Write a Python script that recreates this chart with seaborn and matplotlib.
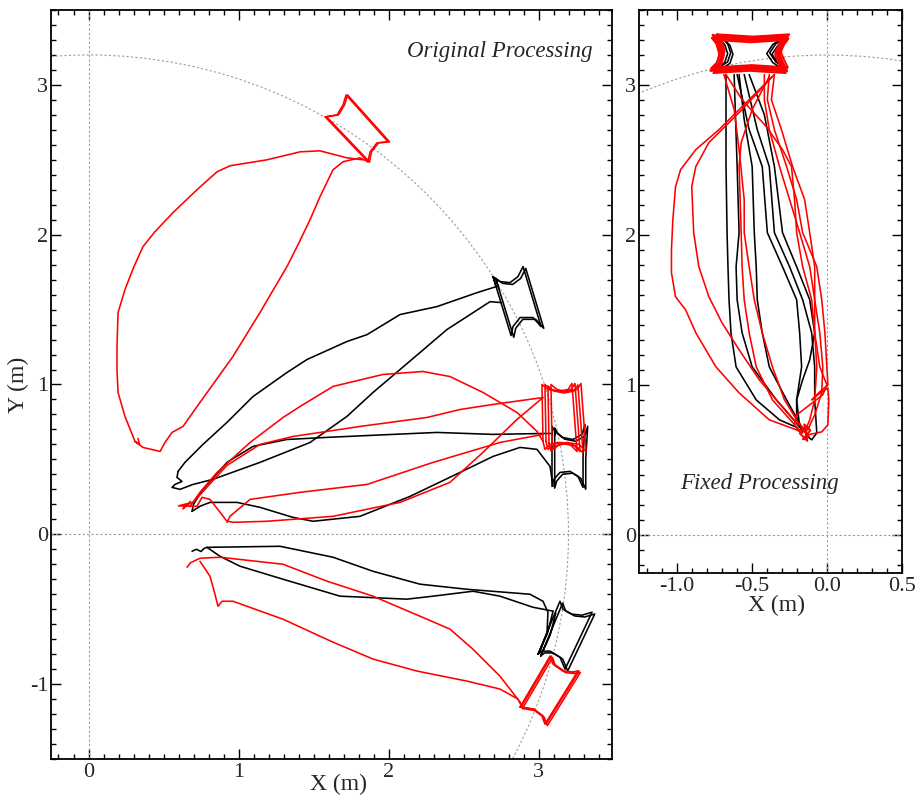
import matplotlib
matplotlib.use("Agg")
import matplotlib.pyplot as plt
import seaborn as sns
import pandas as pd
from matplotlib.patches import Circle
from matplotlib.ticker import MultipleLocator, FormatStrFormatter, FixedLocator

# ---------------- data: left panel (Original Processing) ----------------
red_loop_left = [(0.31, 0.62), (0.243, 0.787), (0.197, 0.947), (0.19, 1.10), (0.19, 1.253),
                 (0.197, 1.48), (0.243, 1.633), (0.30, 1.78), (0.363, 1.92), (0.443, 2.02),
                 (0.563, 2.147), (0.723, 2.30), (0.857, 2.42), (0.943, 2.46), (1.19, 2.50),
                 (1.41, 2.553), (1.543, 2.56), (1.723, 2.513), (1.83, 2.50)]
red_box_top = [(1.863, 2.487), (1.577, 2.787), (1.657, 2.80), (1.697, 2.867), (1.717, 2.933),
               (1.997, 2.62), (1.923, 2.613), (1.877, 2.553), (1.863, 2.487)]
red_loop_right = [(1.863, 2.487), (1.81, 2.513), (1.697, 2.487), (1.63, 2.433), (1.543, 2.253),
                  (1.477, 2.10), (1.40, 1.94), (1.323, 1.787), (1.143, 1.48), (0.963, 1.187),
                  (0.743, 0.88), (0.63, 0.72), (0.557, 0.68), (0.51, 0.613), (0.477, 0.553),
                  (0.363, 0.58), (0.31, 0.62), (0.34, 0.60), (0.33, 0.64)]

black_up_lower = [(2.75, 1.547), (2.677, 1.553), (2.39, 1.367), (2.077, 1.10), (1.897, 0.947),
                  (1.723, 0.787), (1.477, 0.613), (1.143, 0.48), (0.83, 0.367), (0.697, 0.333),
                  (0.61, 0.30), (0.557, 0.313), (0.577, 0.333), (0.623, 0.353), (0.59, 0.38),
                  (0.597, 0.42)]
black_up_upper = [(0.597, 0.42), (0.643, 0.48), (0.763, 0.60), (0.923, 0.747), (1.097, 0.92),
                  (1.323, 1.08), (1.457, 1.167), (1.723, 1.287), (1.857, 1.333), (2.077, 1.467),
                  (2.323, 1.52), (2.59, 1.613), (2.717, 1.653)]
black_box_up = [(2.717, 1.653), (2.697, 1.72), (2.743, 1.687), (2.81, 1.68), (2.863, 1.72),
                (2.897, 1.787), (3.017, 1.387), (2.963, 1.447), (2.877, 1.447), (2.83, 1.387),
                (2.817, 1.327), (2.697, 1.72)]

black_mid_upper = [(0.69, 0.153), (0.70, 0.20), (0.763, 0.30), (0.923, 0.48), (1.097, 0.587),
                   (1.323, 0.633), (1.59, 0.647), (2.03, 0.667), (2.323, 0.68), (2.697, 0.667),
                   (3.03, 0.673), (3.09, 0.673)]
black_box_mid = [(3.09, 0.673), (3.09, 0.72), (3.11, 0.687), (3.157, 0.647), (3.23, 0.633),
                 (3.29, 0.667), (3.31, 0.733), (3.297, 0.52), (3.297, 0.313), (3.263, 0.387),
                 (3.21, 0.42), (3.143, 0.413), (3.103, 0.367), (3.09, 0.32), (3.09, 0.72)]
black_mid_lower = [(3.097, 0.32), (3.077, 0.453), (2.99, 0.567), (2.877, 0.58), (2.697, 0.52),
                   (2.477, 0.413), (2.143, 0.253), (1.81, 0.12), (1.497, 0.087), (1.363, 0.113),
                   (1.143, 0.18), (0.99, 0.213), (0.81, 0.213), (0.743, 0.187), (0.69, 0.153)]

red_mid_arc = [(0.64, 0.19), (0.677, 0.187), (0.743, 0.28), (0.857, 0.413), (1.077, 0.613),
               (1.297, 0.78), (1.41, 0.853), (1.63, 0.987), (1.963, 1.067), (2.23, 1.087),
               (2.41, 1.053), (2.63, 0.947), (2.857, 0.813), (2.99, 0.687), (3.03, 0.62)]
red_mid_top = [(0.66, 0.20), (0.697, 0.213), (0.923, 0.46), (1.143, 0.60), (1.363, 0.653),
               (1.81, 0.72), (2.257, 0.78), (2.477, 0.833), (2.697, 0.867), (3.03, 0.913)]
red_mid_down1 = [(3.03, 0.913), (2.857, 0.767), (2.63, 0.547), (2.41, 0.347), (2.077, 0.213),
                 (1.63, 0.12), (1.19, 0.087), (0.963, 0.08), (0.93, 0.087)]
red_mid_down2 = [(3.03, 0.667), (2.743, 0.613), (2.297, 0.48), (1.857, 0.333), (1.41, 0.28),
                 (1.077, 0.233), (0.943, 0.12), (0.923, 0.08)]
red_mid_wiggle = [(0.923, 0.087), (0.877, 0.147), (0.81, 0.233), (0.757, 0.247), (0.723, 0.187),
                  (0.677, 0.187), (0.60, 0.19), (0.66, 0.205), (0.63, 0.17), (0.68, 0.22)]
red_box_mid = [(3.03, 0.62), (3.043, 0.567), (3.077, 0.60), (3.13, 0.613), (3.21, 0.60),
               (3.257, 0.553), (3.223, 1.007), (3.197, 0.967), (3.13, 0.953), (3.063, 0.967),
               (3.023, 1.00), (3.03, 0.62)]

black_low_upper = [(0.69, -0.113), (0.72, -0.10), (0.75, -0.115), (0.77, -0.095), (0.79, -0.087),
                   (1.277, -0.08), (1.63, -0.153), (1.897, -0.247), (2.21, -0.333), (2.523, -0.367),
                   (2.943, -0.40), (3.03, -0.447), (3.063, -0.52), (3.057, -0.653), (3.01, -0.787),
                   (2.997, -0.80)]
black_box_low = [(2.997, -0.80), (3.143, -0.447), (3.163, -0.50), (3.223, -0.533), (3.29, -0.54),
                 (3.357, -0.52), (3.177, -0.90), (3.143, -0.82), (3.077, -0.78), (3.023, -0.78),
                 (2.997, -0.80), (3.06, -0.66), (3.097, -0.513)]
black_low_lower = [(3.097, -0.513), (2.963, -0.487), (2.743, -0.413), (2.563, -0.38), (2.297, -0.413),
                   (2.123, -0.433), (1.677, -0.413), (1.297, -0.30), (1.01, -0.213), (0.877, -0.147),
                   (0.79, -0.087)]

red_low_upper = [(0.657, -0.22), (0.68, -0.19), (0.743, -0.16), (0.877, -0.153), (1.297, -0.20),
                 (1.59, -0.313), (1.897, -0.413), (2.21, -0.547), (2.41, -0.633), (2.563, -0.767),
                 (2.743, -0.947), (2.877, -1.12), (2.89, -1.153)]
red_box_low = [(2.877, -1.153), (3.077, -0.813), (3.097, -0.867), (3.163, -0.913), (3.223, -0.92),
               (3.263, -0.913), (3.043, -1.267), (3.023, -1.213), (2.963, -1.167), (2.877, -1.153)]
red_low_lower = [(2.89, -1.153), (2.863, -1.10), (2.743, -1.033), (2.523, -0.98), (2.19, -0.913),
                 (1.897, -0.833), (1.63, -0.72), (1.297, -0.567), (0.963, -0.447), (0.89, -0.447),
                 (0.863, -0.48), (0.843, -0.40), (0.81, -0.28), (0.743, -0.18)]

# repeated passes around the boxes (small offsets between passes)
box_shifts_red = [(0.0, 0.0), (0.02, 0.0), (0.04, -0.01)]
box_shifts_black = [(0.0, 0.0), (0.018, -0.012)]

# ---------------- data: right panel (Fixed Processing) ----------------
fx_box_red = [(-0.75, 3.32), (-0.51, 3.305), (-0.27, 3.32), (-0.30, 3.28), (-0.33, 3.21),
              (-0.30, 3.14), (-0.28, 3.10), (-0.52, 3.115), (-0.76, 3.10), (-0.72, 3.14),
              (-0.70, 3.21), (-0.72, 3.28), (-0.75, 3.32)]
fx_box_black = [(-0.72, 3.31), (-0.51, 3.30), (-0.30, 3.31), (-0.36, 3.27), (-0.40, 3.21),
                (-0.36, 3.15), (-0.30, 3.11), (-0.52, 3.12), (-0.74, 3.11), (-0.68, 3.15),
                (-0.66, 3.21), (-0.68, 3.27), (-0.72, 3.31)]
fx_red_shifts = [(0.0, 0.0), (0.015, -0.01), (-0.01, 0.012), (0.02, 0.018), (0.005, -0.02),
                 (-0.015, -0.006), (0.01, 0.006)]
fx_black_shifts = [(0.0, 0.0), (0.02, 0.005), (0.035, -0.005)]

fx_black = [
    [(-0.671, 3.07), (-0.671, 2.457), (-0.664, 2.017), (-0.658, 1.79), (-0.651, 1.57),
     (-0.638, 1.35), (-0.604, 1.123), (-0.47, 0.903), (-0.315, 0.77), (-0.195, 0.717)],
    [(-0.617, 3.07), (-0.597, 2.457), (-0.584, 2.017), (-0.604, 1.79), (-0.597, 1.57),
     (-0.564, 1.35), (-0.497, 1.123), (-0.336, 0.903), (-0.181, 0.723)],
    [(-0.584, 3.07), (-0.55, 2.77), (-0.497, 2.457), (-0.483, 2.017), (-0.47, 1.79),
     (-0.463, 1.57), (-0.43, 1.35), (-0.383, 1.123), (-0.268, 0.903), (-0.168, 0.723)],
    [(-0.597, 3.07), (-0.517, 2.703), (-0.43, 2.457), (-0.396, 2.017), (-0.295, 1.79),
     (-0.201, 1.57), (-0.181, 1.35), (-0.168, 1.123), (-0.201, 0.903), (-0.181, 0.723)],
    [(-0.55, 3.07), (-0.463, 2.703), (-0.383, 2.457), (-0.349, 2.017), (-0.248, 1.79),
     (-0.161, 1.57), (-0.101, 1.35), (-0.081, 1.123), (-0.081, 0.903), (-0.067, 0.683),
     (-0.101, 0.637), (-0.13, 0.66)],
    [(-0.517, 3.07), (-0.416, 2.803), (-0.349, 2.457), (-0.295, 2.017), (-0.201, 1.79),
     (-0.114, 1.57), (-0.081, 1.35), (-0.114, 1.17), (-0.161, 1.037), (-0.201, 0.903),
     (-0.201, 0.77), (-0.168, 0.703)],
]
fx_red = [
    [(-0.349, 3.07), (-0.517, 2.903), (-0.718, 2.703), (-0.872, 2.57), (-0.973, 2.437),
     (-1.007, 2.323), (-1.025, 2.10), (-1.034, 1.903), (-1.034, 1.75), (-1.007, 1.59),
     (-0.94, 1.503), (-0.872, 1.35), (-0.738, 1.123), (-0.584, 0.95), (-0.383, 0.77),
     (-0.201, 0.703), (-0.161, 0.683)],
    [(-0.362, 3.057), (-0.564, 2.837), (-0.785, 2.617), (-0.872, 2.457), (-0.899, 2.323),
     (-0.886, 2.017), (-0.852, 1.79), (-0.785, 1.59), (-0.698, 1.417), (-0.584, 1.237),
     (-0.45, 1.037), (-0.336, 0.903), (-0.201, 0.75), (-0.134, 0.703)],
    [(-0.383, 3.057), (-0.497, 2.837), (-0.57, 2.617), (-0.584, 2.457), (-0.57, 2.017),
     (-0.564, 1.79), (-0.55, 1.57), (-0.517, 1.35), (-0.47, 1.123), (-0.362, 0.903),
     (-0.201, 0.723), (-0.161, 0.683)],
    [(-0.685, 3.07), (-0.617, 2.837), (-0.584, 2.57), (-0.55, 2.237), (-0.55, 2.017),
     (-0.517, 1.79), (-0.483, 1.57), (-0.43, 1.35), (-0.362, 1.123), (-0.282, 0.903),
     (-0.181, 0.737), (-0.134, 0.69)],
    [(-0.671, 3.07), (-0.564, 2.903), (-0.403, 2.723), (-0.295, 2.57), (-0.235, 2.457),
     (-0.215, 2.237), (-0.201, 2.017), (-0.161, 1.79), (-0.101, 1.57), (-0.081, 1.35),
     (-0.067, 1.123), (-0.081, 0.903), (-0.114, 0.77), (-0.148, 0.69)],
    [(-0.416, 3.07), (-0.416, 2.903), (-0.383, 2.703), (-0.315, 2.457), (-0.248, 2.237),
     (-0.181, 2.017), (-0.114, 1.79), (-0.081, 1.57), (-0.047, 1.35), (-0.027, 1.123),
     (-0.034, 0.95), (-0.081, 0.803), (-0.128, 0.703)],
    [(-0.383, 3.07), (-0.396, 2.903), (-0.349, 2.703), (-0.268, 2.457), (-0.201, 2.237),
     (-0.161, 2.017), (-0.067, 1.79), (-0.034, 1.57), (-0.013, 1.35), (0.0, 1.123),
     (0.007, 1.003), (-0.047, 0.957), (-0.101, 0.903), (-0.06, 0.937), (0.007, 0.983),
     (0.013, 0.903), (0.007, 0.737), (-0.034, 0.69), (-0.128, 0.67)],
    [(-0.349, 3.07), (-0.369, 2.903), (-0.302, 2.703), (-0.228, 2.457), (-0.148, 2.237),
     (-0.114, 2.017), (-0.081, 1.79), (-0.081, 1.57), (-0.081, 1.35), (-0.047, 1.123),
     (0.0, 1.003), (-0.027, 0.937), (-0.114, 0.87), (-0.201, 0.803), (-0.215, 0.737), (-0.181, 0.69)],
]
fx_cluster = [(-0.17, 0.72), (-0.12, 0.66), (-0.16, 0.64), (-0.11, 0.70), (-0.15, 0.74),
              (-0.13, 0.63), (-0.18, 0.68), (-0.12, 0.72)]

left_xticks = [0, 1, 2, 3]
left_yticks = [-1, 0, 1, 2, 3]
right_xticks = [-1.0, -0.5, 0.0, 0.5]
right_yticks = [0, 1, 2, 3]
ring_radius = 3.2

# ---------------- styling ----------------
sns.set_theme(style="white")
plt.rcParams["font.family"] = ["Liberation Serif", "DejaVu Serif"]
plt.rcParams["axes.unicode_minus"] = False

fig = plt.figure(figsize=(9.18, 7.95), dpi=100)
ax1 = fig.add_axes([51 / 918, 36 / 795, 561 / 918, 749 / 795])
ax2 = fig.add_axes([639 / 918, 222 / 795, 263 / 918, 563 / 795])


def draw(ax, pts, color, lw=1.15, dx=0.0, dy=0.0):
    df = pd.DataFrame(pts, columns=["x", "y"])
    df["x"] = df["x"] + dx
    df["y"] = df["y"] + dy
    sns.lineplot(data=df, x="x", y="y", sort=False, estimator=None,
                 color=color, lw=lw, ax=ax, zorder=3)


ref_kw = dict(color="#9a9a9a", lw=0.8, ls=(0, (2, 2)), zorder=1)
for ax in (ax1, ax2):
    ax.axhline(0, **ref_kw)
    ax.axvline(0, **ref_kw)
    ax.add_patch(Circle((0, 0), ring_radius, fill=False, **ref_kw))

# left panel: black first, red on top
for path in (black_up_lower, black_up_upper, black_mid_upper, black_mid_lower,
             black_low_upper, black_low_lower):
    draw(ax1, path, "black")
for sx, sy in box_shifts_black:
    draw(ax1, black_box_up, "black", dx=sx, dy=sy)
    draw(ax1, black_box_mid, "black", dx=sx, dy=sy)
    draw(ax1, black_box_low, "black", dx=sx, dy=sy)

for path in (red_loop_left, red_loop_right, red_mid_arc, red_mid_top, red_mid_down1,
             red_mid_down2, red_mid_wiggle, red_low_upper, red_low_lower):
    draw(ax1, path, "red")
for sx, sy in box_shifts_red[:2]:
    draw(ax1, red_box_top, "red", dx=sx * 0.5, dy=sy)
for sx, sy in box_shifts_red + [(0.06, 0.0)]:
    draw(ax1, red_box_mid, "red", dx=sx, dy=sy)
for sx, sy in box_shifts_red:
    draw(ax1, red_box_low, "red", dx=sx * 0.4, dy=sy)

# right panel
for path in fx_black:
    draw(ax2, path, "black")
for sx, sy in fx_black_shifts:
    draw(ax2, fx_box_black, "black", dx=sx, dy=sy)
for path in fx_red:
    draw(ax2, path, "red")
for sx, sy in fx_red_shifts:
    draw(ax2, fx_box_red, "red", lw=1.4, dx=sx, dy=sy)
draw(ax2, fx_cluster, "red", lw=1.4)

# axes formatting
ax1.set_xlim(-0.25, 3.49)
ax1.set_ylim(-1.5, 3.5)
ax2.set_xlim(-1.25, 0.5)
ax2.set_ylim(-0.25, 3.5)
ax1.xaxis.set_major_locator(FixedLocator(left_xticks))
ax1.yaxis.set_major_locator(FixedLocator(left_yticks))
ax2.xaxis.set_major_locator(FixedLocator(right_xticks))
ax2.yaxis.set_major_locator(FixedLocator(right_yticks))
ax2.xaxis.set_major_formatter(FormatStrFormatter("%.1f"))
for ax in (ax1, ax2):
    ax.set_aspect("auto")
    ax.set_xlabel("")
    ax.set_ylabel("")
    ax.xaxis.set_minor_locator(MultipleLocator(0.1))
    ax.yaxis.set_minor_locator(MultipleLocator(0.1))
    ax.tick_params(which="both", direction="in", top=True, right=True,
                   bottom=True, left=True, color="black", width=1.0)
    ax.tick_params(which="major", length=7.5, labelsize=16, pad=2)
    ax.tick_params(which="minor", length=3.8)
    ax.tick_params(axis="x", which="major", pad=3)
    for s in ax.spines.values():
        s.set_color("black")
        s.set_linewidth(1.3)

fig.text(339 / 918, 1 - 784 / 795, "X (m)", ha="center", va="center", fontsize=17)
fig.text(18 / 918, 1 - 385 / 795, "Y (m)", ha="center", va="center", fontsize=17, rotation=90)
fig.text(776 / 918, 1 - 605 / 795, "X (m)", ha="center", va="center", fontsize=17)
fig.text(500 / 918, 1 - 52 / 795, "Original Processing", ha="center", va="center",
         fontsize=16.5, style="italic")
fig.text(759 / 918, 1 - 483 / 795, "Fixed Processing", ha="center", va="center",
         fontsize=16.5, style="italic")

fig.savefig("out.png", dpi=100)
